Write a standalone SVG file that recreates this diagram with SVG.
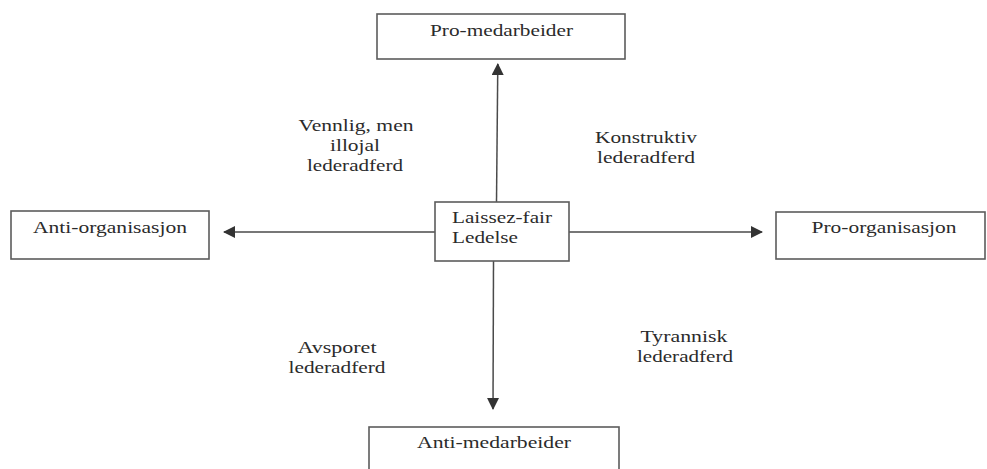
<svg xmlns="http://www.w3.org/2000/svg" width="987" height="469" viewBox="0 0 987 469">
<style>
.box{fill:#fff;stroke:#5c5c5c;stroke-width:1.6}
.t{font-family:"Liberation Serif","Times New Roman",serif;font-size:17.5px;fill:#2b2b2b;text-anchor:middle}
.tl{font-family:"Liberation Serif","Times New Roman",serif;font-size:17.5px;fill:#2b2b2b}
.ln{stroke:#4a4a4a;stroke-width:1.5;fill:none}
</style>
<defs>
<marker id="ah" viewBox="0 0 12 12" refX="11" refY="6" markerWidth="12" markerHeight="12" markerUnits="userSpaceOnUse" orient="auto">
<path d="M0,0 L12,6 L0,12 Z" fill="#333"/>
</marker>
</defs>
<rect width="987" height="469" fill="#fff"/>
<g id="connectors">
<line class="ln" x1="496.5" y1="202" x2="497.8" y2="64" marker-end="url(#ah)"/>
<line class="ln" x1="493.5" y1="261" x2="493" y2="409" marker-end="url(#ah)"/>
<line class="ln" x1="435" y1="232" x2="224" y2="232" marker-end="url(#ah)"/>
<line class="ln" x1="569" y1="232" x2="762" y2="232" marker-end="url(#ah)"/>
</g>
<g id="pro-medarbeider">
<rect class="box" x="377" y="14" width="248" height="45"/>
<text class="t" x="501.5" y="36" textLength="143" lengthAdjust="spacingAndGlyphs">Pro-medarbeider</text>
</g>
<g id="laissez-fair">
<rect class="box" x="435" y="202" width="134" height="59"/>
<text class="tl" x="452" y="223" textLength="100" lengthAdjust="spacingAndGlyphs">Laissez-fair</text>
<text class="tl" x="452" y="243" textLength="66" lengthAdjust="spacingAndGlyphs">Ledelse</text>
</g>
<g id="anti-organisasjon">
<rect class="box" x="11" y="211" width="198" height="48"/>
<text class="t" x="110" y="233" textLength="154" lengthAdjust="spacingAndGlyphs">Anti-organisasjon</text>
</g>
<g id="pro-organisasjon">
<rect class="box" x="776" y="212" width="209" height="47"/>
<text class="t" x="884" y="233" textLength="145" lengthAdjust="spacingAndGlyphs">Pro-organisasjon</text>
</g>
<g id="anti-medarbeider">
<rect class="box" x="369" y="427" width="250" height="60"/>
<text class="t" x="494" y="448" textLength="154" lengthAdjust="spacingAndGlyphs">Anti-medarbeider</text>
</g>
<g id="label-vennlig">
<text class="t" x="356" y="131" textLength="115" lengthAdjust="spacingAndGlyphs">Vennlig, men</text>
<text class="t" x="355" y="151" textLength="50" lengthAdjust="spacingAndGlyphs">illojal</text>
<text class="t" x="355" y="171" textLength="96" lengthAdjust="spacingAndGlyphs">lederadferd</text>
</g>
<g id="label-konstruktiv">
<text class="t" x="646" y="143" textLength="102" lengthAdjust="spacingAndGlyphs">Konstruktiv</text>
<text class="t" x="646" y="163" textLength="98" lengthAdjust="spacingAndGlyphs">lederadferd</text>
</g>
<g id="label-avsporet">
<text class="t" x="337" y="353" textLength="79" lengthAdjust="spacingAndGlyphs">Avsporet</text>
<text class="t" x="337" y="373" textLength="97" lengthAdjust="spacingAndGlyphs">lederadferd</text>
</g>
<g id="label-tyrannisk">
<text class="t" x="684" y="342" textLength="87" lengthAdjust="spacingAndGlyphs">Tyrannisk</text>
<text class="t" x="685" y="362" textLength="96" lengthAdjust="spacingAndGlyphs">lederadferd</text>
</g>
</svg>
